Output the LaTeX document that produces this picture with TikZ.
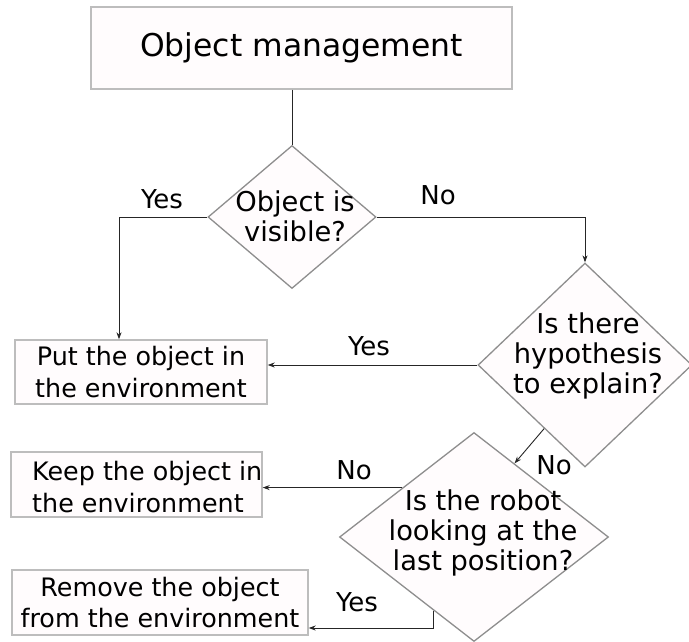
\documentclass[tikz,border=0pt]{standalone}
\usepackage{fontspec}
\setmainfont{DejaVu Sans}
\usetikzlibrary{shapes.geometric,arrows.meta,calc}
\definecolor{boxfill}{HTML}{FFFCFD}
\definecolor{boxline}{HTML}{BDBDBD}
\definecolor{dialine}{HTML}{8E8E8E}
\definecolor{conn}{HTML}{262626}
\begin{document}
\begin{tikzpicture}[x=1pt,y=-1pt,
  box/.style={draw=boxline,line width=1.4pt,fill=boxfill,inner sep=0pt,align=center,
    font=\fontsize{25.4}{31.5}\selectfont},
  dia/.style={draw=dialine,line width=1.3pt,fill=boxfill,diamond,inner sep=0pt},
  dtext/.style={align=center,inner sep=0pt,font=\fontsize{27.3}{30}\selectfont},
  btext/.style={align=left,inner sep=0pt,font=\fontsize{25.4}{32}\selectfont},
  lab/.style={inner sep=0pt,font=\fontsize{26}{30}\selectfont},
  conn/.style={draw=conn,line width=0.9pt},
  arr/.style={conn,-{Stealth[length=7pt,width=5pt]}}]
\useasboundingbox (0,0) rectangle (689,641);
\fill[white] (0,0) rectangle (689,641);
% boxes
\node[box,minimum width=421,minimum height=82,font=\fontsize{31.4}{36}\selectfont] (title) at (301.5,48) {Object management};
\node[box,minimum width=252,minimum height=64] (put) at (141,372) {Put the object in\\the environment};
\node[box,minimum width=251,minimum height=65] (keep) at (136.5,484.5) {};
\node[btext,anchor=west] (keeptext) at (32,487) {Keep the object in\\the environment};
\node[box,minimum width=296,minimum height=65] (remove) at (160,602.5) {Remove the object\\from the environment};
% diamonds
\node[dia,minimum width=168,minimum height=143] (d1) at (292,217) {};
\node[dtext] (t1) at (295,216) {Object is\\visible?};
\node[dia,minimum width=214,minimum height=204] (d2) at (585,365) {};
\node[dtext] (t2) at (588,356) {Is there\\hypothesis\\to explain?};
\node[dia,minimum width=269,minimum height=209] (d3) at (474,537) {};
\node[dtext] (t3) at (483,533) {Is the robot\\looking at the\\last position?};
% connectors
\draw[conn] (d1.north |- title.south) -- (d1.north);
\coordinate (c1) at (119,0);
\draw[arr] (d1.west) -- (c1 |- d1.west) -- (c1 |- put.north);
\node[lab] (y1) at (162,199) {Yes};
\coordinate (c2) at (d2.north |- d1.east);
\draw[arr] (d1.east) -- (c2) -- (d2.north);
\node[lab] (n1) at (438,195) {No};
\draw[arr] (d2.west) -- (d2.west -| put.east);
\node[lab] (y2) at (369,346) {Yes};
\coordinate (p1) at ($(d2.west)!0.62!(d2.south)$);
\coordinate (p2) at ($(d3.north)!0.3!(d3.east)$);
\draw[arr] (p1) -- (p2);
\node[lab] (n2) at (554,465) {No};
\coordinate (p3) at ($(d3.north)!0.53!(d3.west)$);
\draw[arr] (p3) -- (p3 -| keep.east);
\node[lab] (n3) at (354,470) {No};
\coordinate (p4) at ($(d3.west)!0.7!(d3.south)$);
\coordinate (c4) at (p4 |- 0,628);
\draw[arr] (p4) -- (c4) -- (c4 -| remove.east);
\node[lab] (y3) at (357,602) {Yes};
\end{tikzpicture}
\end{document}
